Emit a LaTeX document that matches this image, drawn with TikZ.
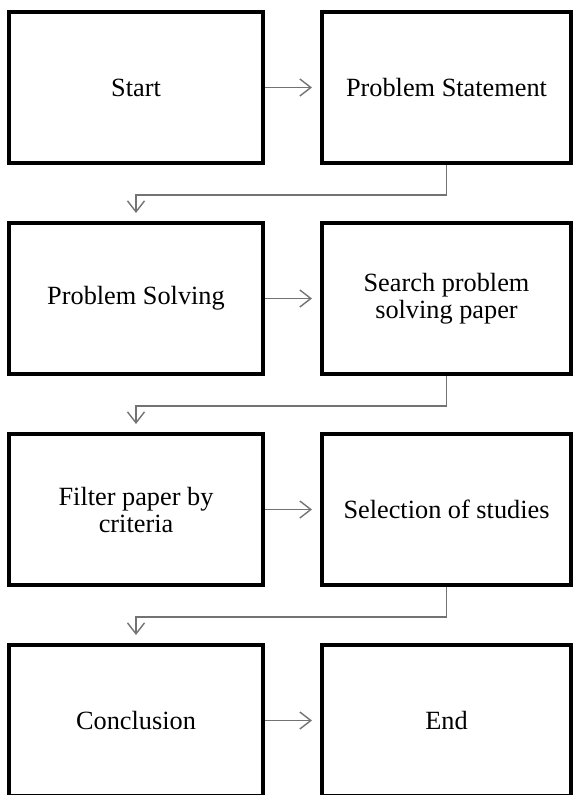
\documentclass[tikz,border=0pt]{standalone}
\usepackage{fontspec}
\setmainfont{Liberation Serif}
\usetikzlibrary{arrows.meta}

\tikzset{
  stepbox/.style={draw, line width=4pt, align=center, inner sep=0pt,
    font=\fontsize{26.3}{27}\selectfont},
  leftbox/.style={stepbox, minimum width=254pt, minimum height=151pt},
  rightbox/.style={stepbox, minimum width=249pt, minimum height=151pt},
  link/.style={draw=black!55, line width=1.4pt,
    -{Straight Barb[length=11pt,width=17pt]}, shorten >=8pt}
}

\begin{document}
\begin{tikzpicture}[x=1pt, y=-1pt]

\useasboundingbox (0,0) rectangle (574,795);

\node[leftbox]  (start)   at (136,87.5)    {Start};
\node[rightbox] (stmt)    at (446.5,87.5)  {Problem Statement};
\node[leftbox]  (solving) at (136,298.5)   {Problem Solving};
\node[rightbox] (search)  at (446.5,298.5) {Search problem\\solving paper};
\node[leftbox]  (filter)  at (136,509.5)   {Filter paper by\\criteria};
\node[rightbox] (select)  at (446.5,509.5) {Selection of studies};
\node[leftbox]  (concl)   at (136,720.5)   {Conclusion};
\node[rightbox] (finish)  at (446.5,720.5) {End};

\draw[link] (start) -- (stmt);
\draw[link] (solving) -- (search);
\draw[link] (filter) -- (select);
\draw[link] (concl) -- (finish);

\draw[link] (stmt.south) -- ++(0,30) -| (solving.north);
\draw[link] (search.south) -- ++(0,30) -| (filter.north);
\draw[link] (select.south) -- ++(0,30) -| (concl.north);

\end{tikzpicture}
\end{document}
